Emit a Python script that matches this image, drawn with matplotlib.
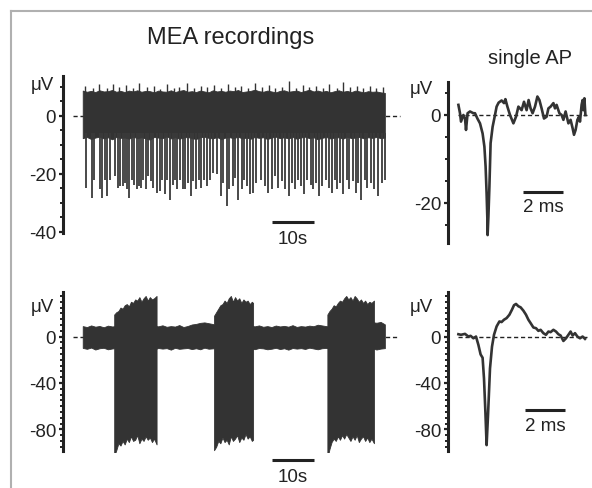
import matplotlib.pyplot as plt
from matplotlib.lines import Line2D
from matplotlib.ticker import MultipleLocator

plt.rcParams['font.family'] = ['Liberation Sans', 'DejaVu Sans']

# ---- top recording (tonic firing) ----
top_env_t = list(range(0, 73))
top_hi = [8.6, 8.2, 8.5, 8.1, 8.7, 8.3, 8.4, 8.8, 8.2, 8.5, 8.1, 8.6, 8.3, 8.7, 8.2, 8.5,
          8.4, 8.0, 8.6, 8.3, 8.2, 8.7, 8.1, 8.5, 8.8, 8.2, 8.4, 8.1, 8.6, 8.3, 8.0, 8.7,
          8.3, 8.5, 8.2, 8.6, 8.4, 8.8, 8.1, 8.3, 8.5, 8.9, 8.4, 8.2, 8.6, 8.3, 8.0, 8.5,
          8.7, 8.2, 8.4, 8.6, 8.1, 8.5, 8.9, 8.3, 8.6, 8.2, 8.5, 8.0, 8.4, 8.7, 8.2, 8.5,
          8.1, 8.6, 8.3, 8.0, 8.4, 8.2, 8.3, 8.0, 7.8]
top_lo = [-7.8, -7.4, -8.1, -7.6, -7.3, -7.9, -7.5, -8.2, -7.4, -7.7, -7.6, -8.0, -7.3, -7.8,
          -7.5, -7.9, -8.3, -7.4, -7.6, -7.8, -7.2, -7.9, -7.5, -8.0, -7.6, -7.4, -7.8, -8.1,
          -7.5, -7.3, -7.7, -7.9, -7.4, -8.2, -7.6, -7.5, -7.8, -7.3, -7.9, -7.6, -8.0, -7.4,
          -7.7, -7.5, -8.1, -7.6, -7.3, -7.8, -7.5, -7.9, -7.4, -8.0, -7.6, -7.3, -7.8, -7.5,
          -8.2, -7.7, -7.4, -7.9, -7.6, -7.5, -8.0, -7.3, -7.8, -7.6, -7.4, -7.9, -7.5, -7.7,
          -7.4, -7.8, -7.6]
top_peak_t = [0.6, 2.4, 3.9, 5.8, 7.1, 8.6, 10.3, 12.0, 13.3, 15.2, 16.9, 18.4, 20.1, 21.7,
              23.0, 24.8, 26.5, 28.1, 29.6, 31.4, 33.0, 34.7, 36.2, 37.8, 39.5, 41.0, 42.7,
              44.3, 45.9, 47.6, 49.1, 50.8, 52.4, 54.0, 55.6, 57.3, 58.8, 60.5, 62.0, 63.7,
              65.3, 66.9, 68.4, 70.0, 71.5]
top_peak_v = [10.2, 9.6, 10.8, 9.4, 11.0, 9.8, 10.4, 9.5, 11.3, 9.9, 10.1, 9.3, 10.7, 9.6,
              10.0, 11.2, 9.5, 10.3, 9.7, 10.6, 9.4, 10.9, 9.8, 10.2, 9.5, 11.1, 9.7, 10.4,
              9.6, 10.0, 11.8, 9.4, 10.5, 9.9, 10.2, 9.6, 10.8, 9.5, 11.4, 9.7, 10.1, 9.4,
              10.3, 9.6, 9.9]
spike_t = [0.8, 2.1, 2.8, 4.0, 4.5, 5.2, 5.7, 6.5, 7.7, 8.3, 8.9, 9.5, 10.1, 10.5, 11.1, 11.7,
           12.2, 12.9, 13.4, 13.9, 14.4, 15.1, 15.6, 16.2, 16.8, 17.6, 18.3, 18.8, 19.6, 20.2,
           20.8, 21.4, 22.0, 22.5, 23.2, 23.8, 24.4, 25.2, 25.8, 26.3, 27.1, 27.8, 28.3, 28.9,
           29.5, 30.3, 31.1, 31.9, 32.9, 33.5, 34.3, 34.9, 35.7, 36.3, 37.1, 37.9, 38.5, 39.2,
           39.8, 40.6, 41.4, 42.6, 43.4, 44.2, 45.0, 45.8, 46.6, 47.4, 48.2, 49.2, 49.8, 50.6,
           51.3, 52.1, 52.8, 53.5, 54.3, 54.9, 55.7, 56.3, 57.1, 57.9, 58.7, 59.3, 60.1, 60.6,
           61.4, 62.1, 62.9, 63.5, 64.3, 65.1, 65.6, 66.4, 67.2, 67.8, 68.6, 69.4, 70.4, 71.2,
           72.0]
spike_v = [-24.9, -28.4, -22.1, -25.5, -28.4, -22.1, -27.8, -22.1, -20.9, -24.9, -24.4, -24.4,
           -23.2, -25.5, -28.4, -22.1, -23.8, -25.5, -24.4, -24.9, -22.1, -25.5, -20.9, -22.6,
           -24.9, -26.7, -26.1, -22.1, -27.2, -22.1, -29.0, -23.8, -22.1, -25.5, -22.1, -25.5,
           -25.5, -23.2, -27.8, -22.6, -25.5, -22.1, -24.9, -22.1, -24.4, -22.1, -19.8, -20.3,
           -27.8, -23.2, -31.3, -25.5, -24.4, -21.5, -29.0, -25.5, -22.1, -24.4, -27.2, -26.7,
           -23.2, -22.1, -24.4, -26.7, -25.5, -20.9, -24.9, -22.6, -25.5, -27.8, -23.2, -25.5,
           -22.1, -24.4, -27.2, -22.1, -23.8, -25.5, -23.2, -27.8, -24.4, -22.1, -24.9, -26.7,
           -22.1, -25.5, -23.2, -27.2, -22.1, -25.5, -22.6, -26.7, -23.2, -29.0, -22.1, -24.9,
           -23.2, -25.5, -27.8, -23.2, -22.1]

# ---- bottom recording (bursting) ----
base_t = list(range(0, 73))
base_hi = [9.0, 8.2, 9.6, 8.5, 9.1, 8.0, 9.4, 8.7, 9.0, 8.3, 9.2, 8.6, 8.1, 9.5, 8.4, 8.9,
           8.2, 9.3, 8.8, 9.7, 8.4, 9.0, 8.6, 9.9, 8.2, 9.1, 10.4, 10.9, 11.8, 12.2, 11.5, 10.8,
           9.2, 8.6, 9.0, 8.3, 9.4, 8.7, 9.1, 8.5, 9.3, 8.8, 9.6, 8.4, 9.0, 8.2, 9.5, 8.7,
           9.2, 8.5, 9.8, 8.3, 9.0, 8.6, 9.4, 8.9, 10.2, 9.6, 9.0, 8.5, 9.3, 8.8, 9.1, 8.4,
           9.6, 8.7, 9.0, 9.4, 10.8, 12.4, 11.9, 12.6, 10.5]
base_lo = [-9.8, -10.6, -9.5, -11.2, -10.1, -9.7, -11.0, -10.3, -9.9, -10.8, -10.2, -9.6,
           -11.4, -10.0, -10.7, -9.8, -10.5, -11.1, -9.9, -10.4, -10.0, -11.3, -9.7, -10.6,
           -10.2, -9.9, -10.8, -10.1, -11.0, -9.6, -10.5, -10.2, -9.9, -11.1, -10.3, -9.7,
           -10.6, -10.0, -11.2, -9.8, -10.4, -10.9, -9.9, -10.2, -11.0, -10.5, -9.7, -10.8,
           -10.1, -11.3, -9.9, -10.4, -10.0, -10.7, -9.6, -10.3, -11.0, -10.1, -9.8, -10.6,
           -10.2, -11.1, -9.9, -10.4, -10.0, -10.8, -9.7, -10.5, -10.9, -10.2, -11.2, -10.4,
           -10.0]
burst1_t = [7.5, 8.0, 8.5, 9.0, 9.5, 10.0, 10.5, 11.0, 11.5, 12.0, 12.5, 13.0, 13.5, 14.0,
            14.5, 15.0, 15.5, 16.0, 16.5, 17.0, 17.6]
burst1_hi = [19, 21, 22, 25, 24, 27, 28, 26, 30, 29, 32, 31, 34, 30, 33, 35, 31, 34, 32, 33, 35]
burst1_lo = [-103, -98, -92, -94, -90, -93, -88, -91, -86, -90, -89, -85, -92, -88, -90, -86,
             -89, -87, -91, -88, -93]
burst2_t = [31.3, 31.8, 32.3, 32.8, 33.3, 33.8, 34.3, 34.8, 35.3, 35.8, 36.3, 36.8, 37.3,
            37.8, 38.3, 38.8, 39.3, 39.8, 40.3, 40.6]
burst2_hi = [18, 21, 24, 27, 28, 31, 29, 33, 35, 30, 34, 31, 33, 29, 32, 30, 31, 28, 30, 29]
burst2_lo = [-98, -95, -90, -92, -87, -91, -89, -93, -86, -90, -88, -85, -91, -87, -89, -84,
             -88, -86, -90, -89]
burst3_t = [58.3, 58.8, 59.3, 59.8, 60.3, 60.8, 61.3, 61.8, 62.3, 62.8, 63.3, 63.8, 64.3,
            64.8, 65.3, 65.8, 66.3, 66.8, 67.3, 67.8, 68.3, 68.8, 69.4]
burst3_hi = [19, 22, 24, 27, 26, 29, 31, 30, 33, 35, 32, 34, 31, 35, 33, 30, 32, 29, 31, 28,
             30, 29, 31]
burst3_lo = [-105, -97, -91, -88, -90, -86, -89, -85, -88, -84, -87, -90, -86, -89, -85, -91,
             -88, -86, -90, -87, -91, -88, -92]

# ---- single action potentials (ms, uV) ----
ap1_t = [0.02, 0.1, 0.15, 0.27, 0.35, 0.4, 0.48, 0.6, 0.77, 0.85, 0.97, 1.1, 1.23, 1.32,
         1.38, 1.43, 1.47, 1.48, 1.52, 1.57, 1.63, 1.73, 1.85, 1.93, 2.03, 2.18, 2.3, 2.37,
         2.47, 2.6, 2.77, 2.9, 3.02, 3.18, 3.3, 3.43, 3.53, 3.63, 3.73, 3.85, 3.97, 4.07,
         4.18, 4.3, 4.43, 4.52, 4.63, 4.77, 4.85, 4.93, 5.07, 5.18, 5.27, 5.38, 5.52, 5.63,
         5.73, 5.8, 5.88, 5.97, 6.05, 6.1, 6.18, 6.23, 6.27, 6.32, 6.37]
ap1_v = [2.3, 0.4, -1.5, 0.0, -0.8, -3.4, 0.4, 0.8, 0.4, 0.4, -0.8, -1.9, -4.2, -7.2,
         -11.7, -17.8, -23.9, -27.3, -23.1, -16.3, -6.4, -2.7, 0.0, 1.9, 2.8, 3.3, 2.7, 3.6,
         1.9, 0.0, -1.9, -0.4, 1.9, 1.1, 3.0, 1.1, 3.4, 1.5, 0.4, 1.9, 4.2, 3.4,
         1.5, -0.8, -0.4, 1.5, 1.9, 2.7, 1.5, 2.3, 0.4, 0.0, -1.1, 0.8, -1.9, -1.1,
         -3.0, -4.5, -3.4, -1.1, -0.4, -1.5, 2.3, 3.4, 1.1, 3.8, 0.0]
ap2_t = [0.02, 0.15, 0.35, 0.52, 0.63, 0.77, 0.9, 1.02, 1.13, 1.23, 1.3, 1.37, 1.43, 1.5,
         1.6, 1.7, 1.8, 1.93, 2.07, 2.18, 2.3, 2.43, 2.57, 2.7, 2.8, 2.9, 3.02, 3.13, 3.27,
         3.4, 3.52, 3.63, 3.77, 3.9, 4.02, 4.13, 4.27, 4.4, 4.52, 4.63, 4.77, 4.9, 5.02,
         5.13, 5.27, 5.4, 5.52, 5.63, 5.73, 5.85, 5.97, 6.1, 6.23, 6.35]
ap2_v = [2.0, 1.5, 2.3, 0.0, 0.6, -1.5, 0.0, -7.2, -15.4, -18.3, -36.2, -65.2, -93.6, -68.1,
         -27.5, -8.7, 1.5, 8.7, 13.0, 12.5, 14.5, 15.9, 18.8, 23.2, 27.0, 28.1, 26.1, 25.2,
         22.3, 18.8, 14.5, 11.6, 7.8, 7.2, 4.9, 5.8, 2.9, 1.5, 4.3, 3.8, 5.8, 4.3, 2.0,
         0.9, -3.8, -1.5, 1.5, 4.3, 0.9, 2.9, 0.0, -1.5, 0.0, -2.0]

W, H = 592, 489
ink = '#333333'
fig = plt.figure(figsize=(W / 100, H / 100), dpi=100)


def panel(x0, x1, y0, y1):
    # pixel box -> axes
    return fig.add_axes([x0 / W, 1 - y1 / H, (x1 - x0) / W, (y1 - y0) / H])


def style(ax, ymin, ymax, major, labels, minor):
    ax.set_ylim(ymin, ymax)
    for s in ['top', 'right', 'bottom']:
        ax.spines[s].set_visible(False)
    ax.spines['left'].set_linewidth(2.2)
    ax.spines['left'].set_color('#222222')
    ax.set_xticks([])
    ax.set_yticks(major)
    ax.set_yticklabels(labels)
    ax.yaxis.set_minor_locator(MultipleLocator(minor))
    ax.tick_params(axis='y', which='major', length=3, width=1.6, pad=2,
                   labelsize=13.5, colors='#222222')
    ax.tick_params(axis='y', which='minor', length=2, width=1.4, colors='#222222')
    ax.patch.set_visible(False)


def scalebar(ax, x0, x1, y, label, ytext):
    ax.plot([x0, x1], [y, y], color='#222222', lw=2.2, clip_on=False,
            solid_capstyle='butt')
    ax.text((x0 + x1) / 2, ytext, label, ha='center', va='center', fontsize=13.5,
            color='#222222', clip_on=False)


# top left
ax1 = panel(63, 405, 76.5, 234)
ax1.set_xlim(-4.7, 76.8)
style(ax1, -40.5, 13.8, [0, -20, -40], ['0', '-20', '-40'], 5)
ax1.plot([-2.3, 75.7], [0, 0], ls=(0, (3, 2)), lw=1, color='#222222', zorder=1)
ax1.fill_between(top_env_t, top_lo, top_hi, color=ink, lw=0.6, edgecolor=ink, zorder=2)
ax1.vlines(top_peak_t, 7.5, top_peak_v, color=ink, lw=1.0, zorder=2)
ax1.vlines(spike_t, spike_v, -6, color='#3a3a3a', lw=1.3, zorder=2)
scalebar(ax1, 45, 55, -36.6, '10s', -42.5)

# bottom left
ax3 = panel(63, 405, 293, 452.5)
ax3.set_xlim(-4.7, 76.8)
style(ax3, -99.1, 38.4, [0, -40, -80], ['0', '-40', '-80'], 5)
ax3.plot([-2.3, 75.0], [0, 0], ls=(0, (3, 2)), lw=1, color='#222222', zorder=1)
ax3.fill_between(base_t, base_lo, base_hi, color=ink, lw=0.6, edgecolor=ink, zorder=2)
for bt, bh, bl in [(burst1_t, burst1_hi, burst1_lo), (burst2_t, burst2_hi, burst2_lo),
                   (burst3_t, burst3_hi, burst3_lo)]:
    ax3.fill_between(bt, bl, bh, color=ink, lw=0.6, edgecolor=ink, zorder=2)
scalebar(ax3, 45, 55, -106.5, '10s', -120.3)

# top right
ax2 = panel(448, 592, 83, 244)
ax2.set_xlim(-0.5, 6.7)
style(ax2, -29.1, 7.5, [0, -20], ['0', '-20'], 5)
ax2.plot([0, 6.45], [0, 0], ls=(0, (3, 2)), lw=1, color='#222222', zorder=1)
ax2.plot(ap1_t, ap1_v, color=ink, lw=1.9, zorder=2)
scalebar(ax2, 3.25, 5.25, -17.5, '2 ms', -20.8)

# bottom right
ax4 = panel(448, 592, 293, 452.5)
ax4.set_xlim(-0.5, 6.7)
style(ax4, -99.1, 38.4, [0, -40, -80], ['0', '-40', '-80'], 5)
ax4.plot([0, 6.45], [0, 0], ls=(0, (3, 2)), lw=1, color='#222222', zorder=1)
ax4.plot(ap2_t, ap2_v, color=ink, lw=1.9, zorder=2)
scalebar(ax4, 3.35, 5.35, -63.2, '2 ms', -77)

# unit labels and titles
for x, y in [(54, 86), (433, 90), (54, 307), (433, 307)]:
    fig.text(x / W, 1 - y / H, 'μV', ha='right', va='center', fontsize=13.5, color='#222222')
fig.text(231 / W, 1 - 38 / H, 'MEA recordings', ha='center', va='center', fontsize=17,
         color='#222222')
fig.text(530 / W, 1 - 59 / H, 'single AP', ha='center', va='center', fontsize=14.5,
         color='#222222')

# grey frame
fig.add_artist(Line2D([11 / W, 11 / W], [0, 1 - 12 / H], color='#b0b0b0', lw=1.5))
fig.add_artist(Line2D([11 / W, 1], [1 - 12 / H, 1 - 12 / H], color='#b0b0b0', lw=1.5))

fig.savefig('out.png', dpi=100)
